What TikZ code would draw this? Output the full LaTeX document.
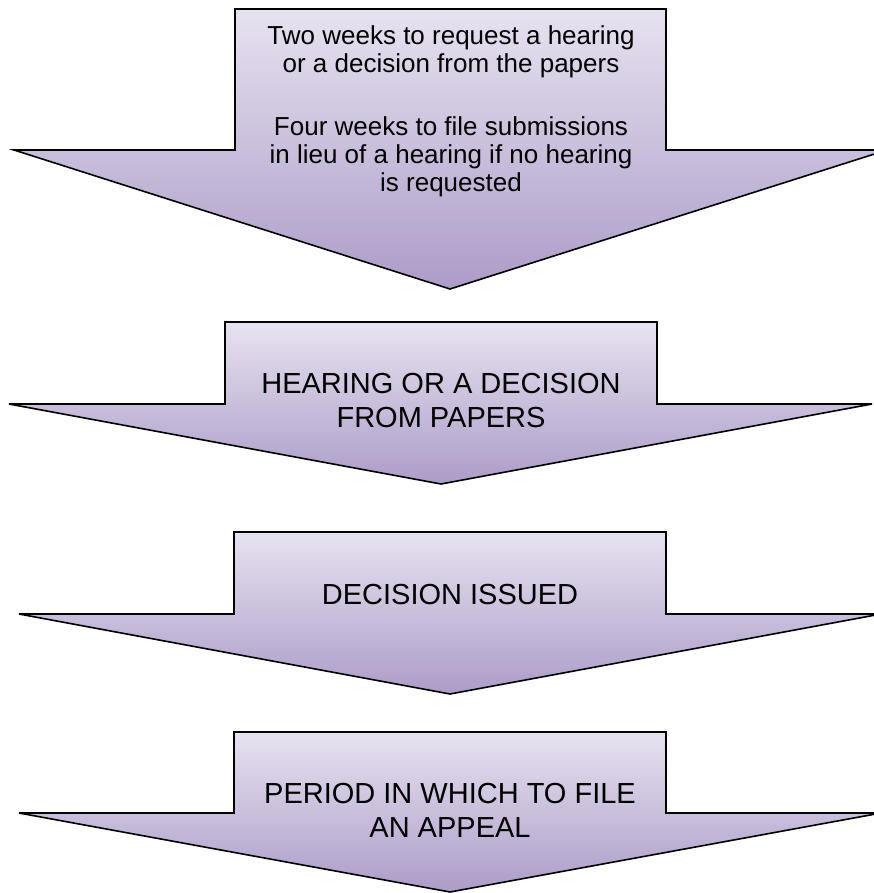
\documentclass[tikz,border=0pt]{standalone}
\usepackage{fontspec}
\setmainfont{Liberation Sans}
\usepackage{xcolor}
\definecolor{arrowtop}{RGB}{231,226,240}
\definecolor{arrowbottom}{RGB}{172,156,200}

\begin{document}
\begin{tikzpicture}[x=1pt,y=-1pt,
  arrowshape/.style={draw=black,line width=1.6pt,top color=arrowtop,bottom color=arrowbottom},
  steptext/.style={align=center,inner sep=0pt,font=\fontsize{29}{34}\selectfont}]
\clip (0,0) rectangle (874,893);
\draw[arrowshape] (235,9) -- (666,9) -- (666,150) -- (887,150) -- (450,289) -- (14,150) -- (235,150) -- cycle;
\node[steptext,anchor=base,font=\fontsize{26}{28}\selectfont] (requests) at (451,192) {Two weeks to request a hearing\\or a decision from the papers\\[35pt]Four weeks to file submissions\\in lieu of a hearing if no hearing\\is requested};
\draw[arrowshape] (225,322) -- (657,322) -- (657,404) -- (872,404) -- (441,484) -- (9,404) -- (225,404) -- cycle;
\node[steptext,anchor=base] (hearing) at (441,427) {HEARING OR A DECISION\\FROM PAPERS};
\draw[arrowshape] (234,532) -- (666,532) -- (666,614) -- (881,614) -- (450,694) -- (19,614) -- (234,614) -- cycle;
\node[steptext,anchor=base] (decision) at (450,604) {DECISION ISSUED};
\draw[arrowshape] (234,732) -- (666,732) -- (666,813) -- (881,813) -- (450,892) -- (19,813) -- (234,813) -- cycle;
\node[steptext,anchor=base] (appeal) at (450,837) {PERIOD IN WHICH TO FILE\\AN APPEAL};
\end{tikzpicture}
\end{document}
